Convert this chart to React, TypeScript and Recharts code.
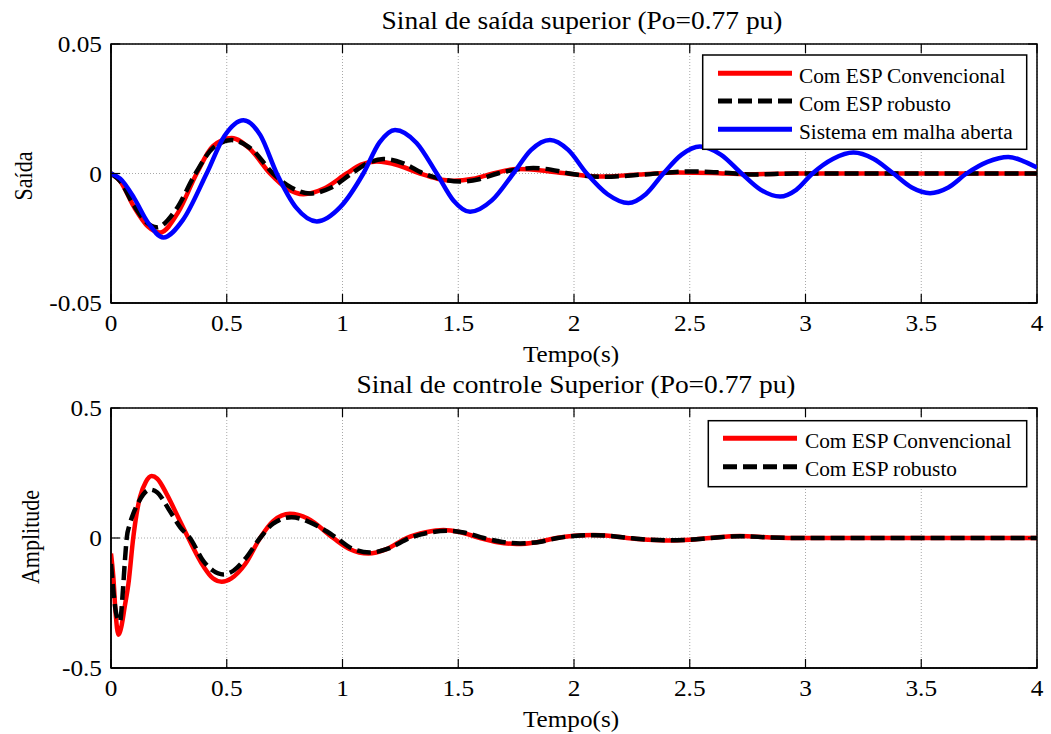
import React from 'react';
import { LineChart, Line, XAxis, YAxis, CartesianGrid, ReferenceArea } from 'recharts';

// Time axis ticks (s) and value ticks for each panel
const tempoTicks = [0, 0.5, 1, 1.5, 2, 2.5, 3, 3.5, 4];
const saidaTicks = [-0.05, 0, 0.05];
const controleTicks = [-0.5, 0, 0.5];

// Upper output signal: [t, value]
const saidaConvencional: [number, number][] = [
  [0, 0], [0.04, -0.003], [0.1, -0.013], [0.16, -0.0205], [0.212, -0.0228], [0.29, -0.015],
  [0.37, 0], [0.44, 0.0105], [0.521, 0.0137], [0.6, 0.0095], [0.687, 0], [0.76, -0.0058],
  [0.831, -0.008], [0.92, -0.0058], [1.018, 0], [1.08, 0.0034], [1.148, 0.0046], [1.24, 0.0032],
  [1.335, 0], [1.41, -0.002], [1.479, -0.0028], [1.565, -0.002], [1.65, 0], [1.752, 0.0017],
  [1.86, 0.0012], [1.97, 0], [2.11, -0.0012], [2.28, -0.0004], [2.45, 0.0004], [2.6, 0.0002],
  [2.75, -0.0003], [2.95, 0], [4, 0],
];

const saidaRobusto: [number, number][] = [
  [0, 0], [0.04, -0.003], [0.1, -0.0125], [0.155, -0.019], [0.197, -0.0208], [0.28, -0.014],
  [0.365, 0], [0.44, 0.0098], [0.521, 0.0129], [0.61, 0.0092], [0.7, 0], [0.78, -0.0055],
  [0.86, -0.0077], [0.95, -0.0055], [1.04, 0], [1.11, 0.004], [1.176, 0.0056], [1.26, 0.004],
  [1.35, 0], [1.43, -0.0022], [1.508, -0.0031], [1.59, -0.0022], [1.67, 0], [1.75, 0.0015],
  [1.824, 0.0021], [1.9, 0.0015], [1.98, 0], [2.125, -0.0013], [2.3, -0.0004], [2.51, 0.0008],
  [2.65, 0.0003], [2.78, -0.0004], [2.95, 0], [4, 0],
];

const saidaMalhaAberta: [number, number][] = [
  [0, 0], [0.04, -0.002], [0.1, -0.0095], [0.16, -0.019], [0.226, -0.0247], [0.31, -0.018],
  [0.413, 0], [0.49, 0.0145], [0.572, 0.0206], [0.645, 0.0148], [0.716, 0], [0.8, -0.0132],
  [0.889, -0.0185], [0.99, -0.013], [1.09, 0], [1.16, 0.012], [1.227, 0.0168], [1.32, 0.0118],
  [1.407, 0], [1.48, -0.0105], [1.551, -0.0148], [1.645, -0.0104], [1.738, 0], [1.815, 0.0091],
  [1.896, 0.0129], [1.975, 0.0091], [2.055, 0], [2.145, -0.008], [2.235, -0.0114], [2.31, -0.008],
  [2.386, 0], [2.465, 0.0073], [2.544, 0.0104], [2.634, 0.0073], [2.724, 0], [2.807, -0.0063],
  [2.89, -0.0089], [2.96, -0.0063], [3.03, 0], [3.12, 0.0057], [3.207, 0.0081], [3.293, 0.0057],
  [3.38, 0], [3.459, -0.0054], [3.538, -0.0076], [3.617, -0.0054], [3.696, 0], [3.786, 0.0045],
  [3.876, 0.0064], [3.94, 0.0048], [4, 0.0023],
];

// Upper control signal: [t, value]
const controleConvencional: [number, number][] = [
  [0, -0.06], [0.01, -0.15], [0.02, -0.29], [0.032, -0.372], [0.045, -0.34], [0.06, -0.26],
  [0.075, -0.178], [0.096, 0], [0.11, 0.09], [0.125, 0.157], [0.15, 0.215], [0.176, 0.238],
  [0.2, 0.228], [0.24, 0.17], [0.29, 0.08], [0.334, 0], [0.4, -0.11], [0.44, -0.155],
  [0.478, -0.168], [0.52, -0.155], [0.58, -0.1], [0.644, 0], [0.7, 0.065], [0.773, 0.093],
  [0.85, 0.075], [0.96, 0], [1.03, -0.042], [1.112, -0.06], [1.19, -0.043], [1.277, 0],
  [1.36, 0.022], [1.436, 0.031], [1.51, 0.022], [1.594, 0], [1.67, -0.016], [1.752, -0.023],
  [1.84, -0.016], [1.924, 0], [2.0, 0.0085], [2.083, 0.012], [2.16, 0.008], [2.228, 0],
  [2.32, -0.007], [2.415, -0.01], [2.5, -0.007], [2.587, 0], [2.717, 0.008], [2.85, 0.002],
  [3.0, 0], [4, 0],
];

const controleRobusto: [number, number][] = [
  [0, -0.1], [0.012, -0.22], [0.025, -0.3], [0.039, -0.32], [0.05, -0.22], [0.06, -0.088],
  [0.068, 0], [0.08, 0.05], [0.096, 0.093], [0.12, 0.14], [0.168, 0.186], [0.2, 0.175],
  [0.25, 0.11], [0.3, 0.04], [0.341, 0], [0.4, -0.09], [0.44, -0.125], [0.485, -0.14],
  [0.53, -0.125], [0.58, -0.08], [0.644, 0], [0.7, 0.055], [0.78, 0.08], [0.86, 0.06],
  [0.975, 0], [1.04, -0.04], [1.119, -0.056], [1.2, -0.04], [1.29, 0], [1.37, 0.02],
  [1.45, 0.028], [1.53, 0.02], [1.61, 0], [1.69, -0.015], [1.767, -0.021], [1.85, -0.015],
  [1.93, 0], [2.0, 0.008], [2.09, 0.011], [2.17, 0.007], [2.24, 0], [2.33, -0.007],
  [2.42, -0.009], [2.51, -0.006], [2.59, 0], [2.72, 0.007], [2.85, 0.002], [3.0, 0], [4, 0],
];

const rows = (pts: [number, number][]) => pts.map(([t, v]) => ({ t, v }));

const FONT = '"Liberation Serif", "Times New Roman", serif';
const RED = '#ff0000';
const BLUE = '#0000ff';
const BLACK = '#000000';
const DASH = '14 6';

const CHART_W = 1051;
const PLOT_LEFT = 111;
const PLOT_W = 926;
const INNER_TICK = 9;

type Serie = { name: string; color: string; dash?: string; pts: [number, number][] };

const saidaSeries: Serie[] = [
  { name: 'Com ESP Convencional', color: RED, pts: saidaConvencional },
  { name: 'Com ESP robusto', color: BLACK, dash: DASH, pts: saidaRobusto },
  { name: 'Sistema em malha aberta', color: BLUE, pts: saidaMalhaAberta },
];

const controleSeries: Serie[] = [
  { name: 'Com ESP Convencional', color: RED, pts: controleConvencional },
  { name: 'Com ESP robusto', color: BLACK, dash: DASH, pts: controleRobusto },
];

const fmt = (v: number) => String(v);

// Bottom axis tick: label below, inward tick mark at bottom and mirrored at top
const makeXTick = (plotH: number) => (props: any) => {
  const { x, y, payload } = props;
  return (
    <g>
      <line x1={x} x2={x} y1={y} y2={y - INNER_TICK} stroke="#000" strokeWidth={1.2} />
      <line x1={x} x2={x} y1={y - plotH} y2={y - plotH + INNER_TICK} stroke="#000" strokeWidth={1.2} />
      <text
        transform={`translate(${x},${y + 28}) scale(1.1,1)`}
        textAnchor="middle"
        fontFamily={FONT}
        fontSize={23}
        fill="#000"
      >
        {fmt(payload.value)}
      </text>
    </g>
  );
};

// Left axis tick: label at the left, inward tick mark at left and mirrored at right
const YTick = (props: any) => {
  const { x, y, payload } = props;
  return (
    <g>
      <line x1={x} x2={x + INNER_TICK} y1={y} y2={y} stroke="#000" strokeWidth={1.2} />
      <line x1={x + PLOT_W - INNER_TICK} x2={x + PLOT_W} y1={y} y2={y} stroke="#000" strokeWidth={1.2} />
      <text
        transform={`translate(${x - 9},${y + 8}) scale(1.1,1)`}
        textAnchor="end"
        fontFamily={FONT}
        fontSize={23}
        fill="#000"
      >
        {fmt(payload.value)}
      </text>
    </g>
  );
};

type PanelProps = {
  top: number;
  height: number;
  marginTop: number;
  xAxisHeight: number;
  ticks: number[];
  series: Serie[];
};

const Panel = ({ top, height, marginTop, xAxisHeight, ticks, series }: PanelProps) => {
  const plotH = height - marginTop - xAxisHeight;
  const lo = ticks[0];
  const hi = ticks[ticks.length - 1];
  return (
    <div style={{ position: 'absolute', left: 0, top, width: CHART_W, height }}>
      <LineChart
        width={CHART_W}
        height={height}
        margin={{ top: marginTop, right: CHART_W - PLOT_LEFT - PLOT_W, bottom: 0, left: 0 }}
      >
        <CartesianGrid stroke="#a8a8a8" strokeDasharray="1 2" strokeWidth={1} />
        <XAxis
          type="number"
          dataKey="t"
          domain={[0, 4]}
          ticks={tempoTicks}
          allowDataOverflow
          height={xAxisHeight}
          tickSize={0}
          tickMargin={0}
          tickLine={false}
          axisLine={{ stroke: '#000', strokeWidth: 1.5 }}
          tick={makeXTick(plotH)}
          interval={0}
        />
        <YAxis
          type="number"
          dataKey="v"
          domain={[lo, hi]}
          ticks={ticks}
          allowDataOverflow
          width={PLOT_LEFT}
          tickSize={0}
          tickMargin={0}
          tickLine={false}
          axisLine={{ stroke: '#000', strokeWidth: 1.5 }}
          tick={YTick}
          interval={0}
        />
        <ReferenceArea x1={0} x2={4} y1={lo} y2={hi} fill="none" stroke="#000" strokeWidth={1.5} />
        {series.map((s) => (
          <Line
            key={s.name}
            data={rows(s.pts)}
            dataKey="v"
            type="monotone"
            stroke={s.color}
            strokeWidth={4.5}
            strokeDasharray={s.dash}
            dot={false}
            activeDot={false}
            isAnimationActive={false}
          />
        ))}
      </LineChart>
    </div>
  );
};

type LegendBox = { x: number; y: number; w: number; h: number; rowY: number[]; lineX: [number, number]; textX: number };

const LegendSvg = ({ box, series }: { box: LegendBox; series: Serie[] }) => (
  <g>
    <rect x={box.x} y={box.y} width={box.w} height={box.h} fill="#fff" stroke="#000" strokeWidth={1.5} />
    {series.map((s, i) => (
      <g key={s.name}>
        <line
          x1={box.lineX[0]}
          x2={box.lineX[1]}
          y1={box.rowY[i]}
          y2={box.rowY[i]}
          stroke={s.color}
          strokeWidth={5}
          strokeDasharray={s.dash}
        />
        <text
          transform={`translate(${box.textX},${box.rowY[i] + 9.5}) scale(1.04,1)`}
          fontFamily={FONT}
          fontSize={20.5}
          fill="#000"
        >
          {s.name}
        </text>
      </g>
    ))}
  </g>
);

const Texto = ({ x, y, size, children, rotate = false }: any) => (
  <text
    transform={`translate(${x},${y}) scale(1.12,1)${rotate ? ' rotate(-90)' : ''}`}
    textAnchor="middle"
    fontFamily={FONT}
    fontSize={size}
    fill="#000"
  >
    {children}
  </text>
);

export default function App() {
  return (
    <div style={{ position: 'absolute', left: 0, top: 0, width: 1051, height: 734, background: '#fff' }}>
      <Panel top={0} height={370} marginTop={44} xAxisHeight={67} ticks={saidaTicks} series={saidaSeries} />
      <Panel top={365} height={369} marginTop={43} xAxisHeight={66} ticks={controleTicks} series={controleSeries} />
      <svg
        width={1051}
        height={734}
        style={{ position: 'absolute', left: 0, top: 0, pointerEvents: 'none' }}
      >
        <Texto x={582} y={29.3} size={24.5}>Sinal de saída superior (Po=0.77 pu)</Texto>
        <Texto x={571} y={361.7} size={22.5}>Tempo(s)</Texto>
        <Texto x={31.7} y={176} size={22} rotate>Saída</Texto>
        <Texto x={576} y={393} size={24.5}>Sinal de controle Superior (Po=0.77 pu)</Texto>
        <Texto x={571} y={726.7} size={22.5}>Tempo(s)</Texto>
        <Texto x={39} y={537} size={22} rotate>Amplitude</Texto>
        <LegendSvg
          box={{ x: 702.7, y: 55, w: 324, h: 94.3, rowY: [73.3, 101, 129.3], lineX: [718, 792], textX: 799 }}
          series={saidaSeries}
        />
        <LegendSvg
          box={{ x: 708.3, y: 420.7, w: 318.4, h: 66, rowY: [438.3, 466.7], lineX: [723, 797], textX: 805 }}
          series={controleSeries}
        />
      </svg>
    </div>
  );
}
